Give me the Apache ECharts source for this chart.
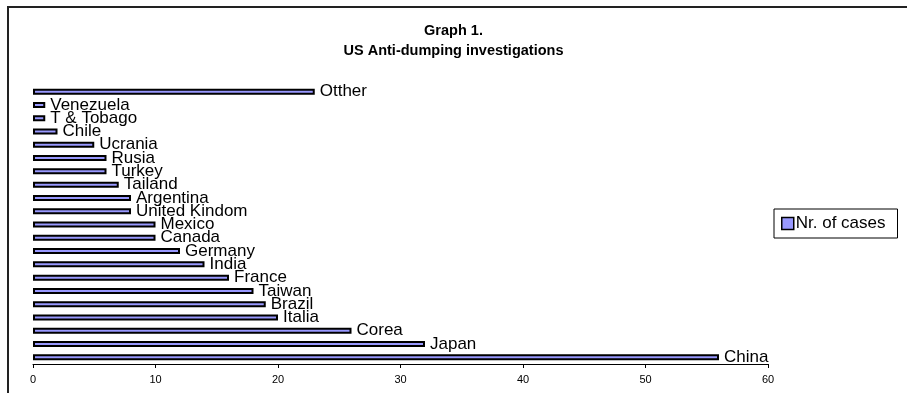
<!DOCTYPE html>
<html>
<head>
<meta charset="utf-8">
<script src="https://cdn.jsdelivr.net/npm/echarts@6/dist/echarts.min.js"></script>
<style>
  html, body { margin: 0; padding: 0; background: #fff; }
  #chart { width: 907px; height: 393px; }
</style>
</head>
<body>
<div id="chart"></div>
<script>
// categories from bottom to top
const countries = ['China', 'Japan', 'Corea', 'Italia', 'Brazil', 'Taiwan', 'France', 'India',
  'Germany', 'Canada', 'Mexico', 'United Kindom', 'Argentina', 'Tailand', 'Turkey', 'Rusia',
  'Ucrania', 'Chile', 'T & Tobago', 'Venezuela', 'Otther'];
const cases = [56, 32, 26, 20, 19, 18, 16, 14, 12, 10, 10, 8, 8, 7, 6, 6, 5, 2, 1, 1, 23];
const xTicks = [0, 10, 20, 30, 40, 50, 60];
const seriesName = 'Nr. of cases';

const chart = echarts.init(document.getElementById('chart'));

const font = '"Liberation Sans", Arial, sans-serif';

chart.setOption({
  backgroundColor: '#fff',
  animation: false,
  title: {
    text: 'Graph 1.\nUS Anti-dumping investigations',
    left: 'center',
    top: 16,
    textStyle: {
      fontFamily: font,
      fontSize: 14.5,
      fontWeight: 'bold',
      color: '#000',
      lineHeight: 20
    }
  },
  graphic: [{
    type: 'rect',
    shape: { x: 8, y: 7, width: 920, height: 420 },
    style: { fill: 'none', stroke: '#222', lineWidth: 2 },
    silent: true
  }],
  legend: {
    data: [seriesName],
    left: 774,
    top: 209,
    orient: 'vertical',
    padding: [6, 12, 6, 7],
    borderColor: '#000',
    borderWidth: 1,
    itemWidth: 12,
    itemHeight: 12,
    itemGap: 0,
    icon: 'rect',
    itemStyle: { borderColor: '#000', borderWidth: 1.5 },
    textStyle: { fontFamily: font, fontSize: 17, color: '#000', padding: [0, 0, 0, -3] }
  },
  grid: {
    left: 33,
    right: 139,
    top: 85,
    bottom: 29
  },
  xAxis: {
    type: 'value',
    min: xTicks[0],
    max: xTicks[xTicks.length - 1],
    interval: 10,
    axisLine: { show: true, lineStyle: { color: '#000', width: 1 } },
    axisTick: { show: true, length: 4, lineStyle: { color: '#000' } },
    axisLabel: { fontFamily: font, fontSize: 11, color: '#000', margin: 10 },
    splitLine: { show: false }
  },
  yAxis: {
    type: 'category',
    data: countries,
    axisLine: { show: false },
    axisTick: { show: false },
    axisLabel: { show: false },
    splitLine: { show: false }
  },
  series: [{
    name: seriesName,
    type: 'bar',
    data: cases,
    barWidth: 6,
    itemStyle: {
      color: '#9999ff',
      borderColor: '#000',
      borderWidth: 2
    },
    label: {
      show: true,
      position: 'right',
      distance: 5,
      formatter: p => countries[p.dataIndex],
      fontFamily: font,
      fontSize: 17,
      color: '#000'
    }
  }]
});
</script>
</body>
</html>
